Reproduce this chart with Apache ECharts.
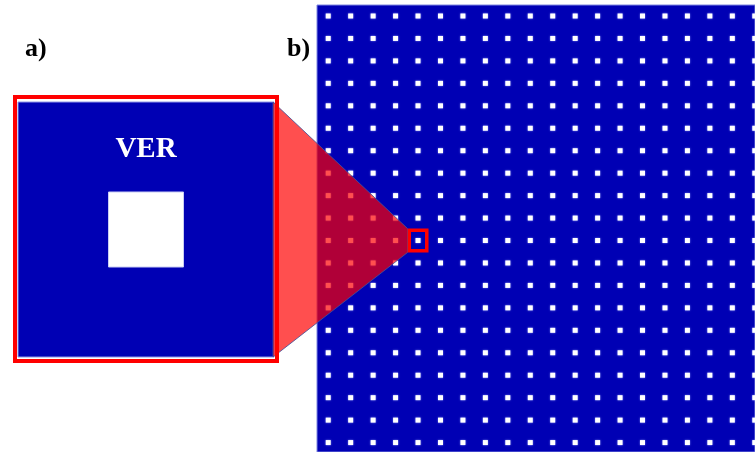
<!DOCTYPE html>
<html>
<head>
<meta charset="utf-8">
<script src="https://cdn.jsdelivr.net/npm/echarts@6/dist/echarts.min.js"></script>
<style>html,body{margin:0;padding:0;background:#fff}#c{width:755px;height:452px}</style>
</head>
<body>
<div id="c"></div>
<script>
// lattice of unit cells (panel b): column and row indices
var cols = [0,1,2,3,4,5,6,7,8,9,10,11,12,13,14,15,16,17,18,19];
var rows = [0,1,2,3,4,5,6,7,8,9,10,11,12,13,14,15,16,17,18,19];
// highlighted cell (column, row) shown enlarged in panel a
var highlight = [4, 10];
// single unit cell in panel a
var cellA = [[0, 0]];
var panelLabels = ['a)', 'b)'];
var cellTitle = 'VER';

var BLUE = '#0000B4';
var latticeData = [];
rows.forEach(function (r) { cols.forEach(function (c) { latticeData.push([c, r]); }); });

var chart = echarts.init(document.getElementById('c'), null, {renderer: 'canvas'});
var hidden = {show: false};
chart.setOption({
  animation: false,
  backgroundColor: '#fff',
  grid: [
    {left: 18, top: 102, width: 256, height: 255, show: true, backgroundColor: BLUE, borderColor: '#8f96e6', borderWidth: 1},
    {left: 317, top: 5, width: 438, height: 447, show: true, backgroundColor: BLUE, borderColor: '#7f86e0', borderWidth: 1}
  ],
  xAxis: [
    {type: 'value', gridIndex: 0, min: -0.5, max: 0.5, axisLine: hidden, axisTick: hidden, axisLabel: hidden, splitLine: hidden},
    {type: 'value', gridIndex: 1, min: -0.5, max: 19.01, axisLine: hidden, axisTick: hidden, axisLabel: hidden, splitLine: hidden}
  ],
  yAxis: [
    {type: 'value', gridIndex: 0, min: -0.5, max: 0.5, axisLine: hidden, axisTick: hidden, axisLabel: hidden, splitLine: hidden},
    {type: 'value', gridIndex: 1, inverse: true, min: -0.49, max: 19.42, axisLine: hidden, axisTick: hidden, axisLabel: hidden, splitLine: hidden}
  ],
  series: [
    {type: 'scatter', xAxisIndex: 0, yAxisIndex: 0, symbol: 'rect', symbolSize: 75, data: cellA,
     itemStyle: {color: '#fff', opacity: 1, borderColor: '#c8ccf4', borderWidth: 1}, silent: true},
    {type: 'scatter', xAxisIndex: 1, yAxisIndex: 1, symbol: 'rect', symbolSize: 5, data: latticeData,
     clip: false, itemStyle: {color: '#fff', opacity: 1, shadowColor: 'rgba(150,160,255,0.9)', shadowBlur: 2}, silent: true}
  ]
});

// annotations anchored through the axes
var hp = chart.convertToPixel({gridIndex: 1}, highlight);
var aTR = chart.convertToPixel({gridIndex: 0}, [0.5, 0.5]);
var aBR = chart.convertToPixel({gridIndex: 0}, [0.5, -0.5]);
var aTL = chart.convertToPixel({gridIndex: 0}, [-0.5, 0.5]);
var aC = chart.convertToPixel({gridIndex: 0}, [0, 0]);
var bw = 21, bh = 24;
var boxL = hp[0] - bw / 2;

chart.setOption({
  graphic: [
    {type: 'polygon', z: 50, silent: true,
     shape: {points: [[aTR[0] - 1, aTR[1]], [boxL, hp[1] - bh / 2], [boxL, hp[1] + bh / 2], [aBR[0] - 1, aBR[1]]]},
     style: {fill: 'rgba(255,0,0,0.69)', stroke: 'rgba(70,80,150,0.85)', lineWidth: 1}},
    {type: 'rect', z: 60, silent: true,
     shape: {x: aTL[0] - 3, y: aTL[1] - 5, width: (aTR[0] - aTL[0]) + 6, height: (aBR[1] - aTR[1]) + 9},
     style: {fill: null, stroke: '#ff0000', lineWidth: 4}},
    {type: 'rect', z: 60, silent: true,
     shape: {x: boxL + 1.75, y: hp[1] - bh / 2 + 1.75, width: bw - 3.5, height: bh - 3.5},
     style: {fill: null, stroke: '#ff0000', lineWidth: 3.5}},
    {type: 'text', z: 60, silent: true, x: aC[0], y: 150,
     style: {text: cellTitle, fill: '#fff', font: 'bold 29px "Liberation Serif", "Times New Roman", serif', align: 'center', verticalAlign: 'middle'}},
    {type: 'text', z: 60, silent: true, x: 25, y: 49,
     style: {text: panelLabels[0], fill: '#000', font: 'bold 26px "Liberation Serif", "Times New Roman", serif', align: 'left', verticalAlign: 'middle'}},
    {type: 'text', z: 60, silent: true, x: 287, y: 49,
     style: {text: panelLabels[1], fill: '#000', font: 'bold 26px "Liberation Serif", "Times New Roman", serif', align: 'left', verticalAlign: 'middle'}}
  ]
});
</script>
</body>
</html>
